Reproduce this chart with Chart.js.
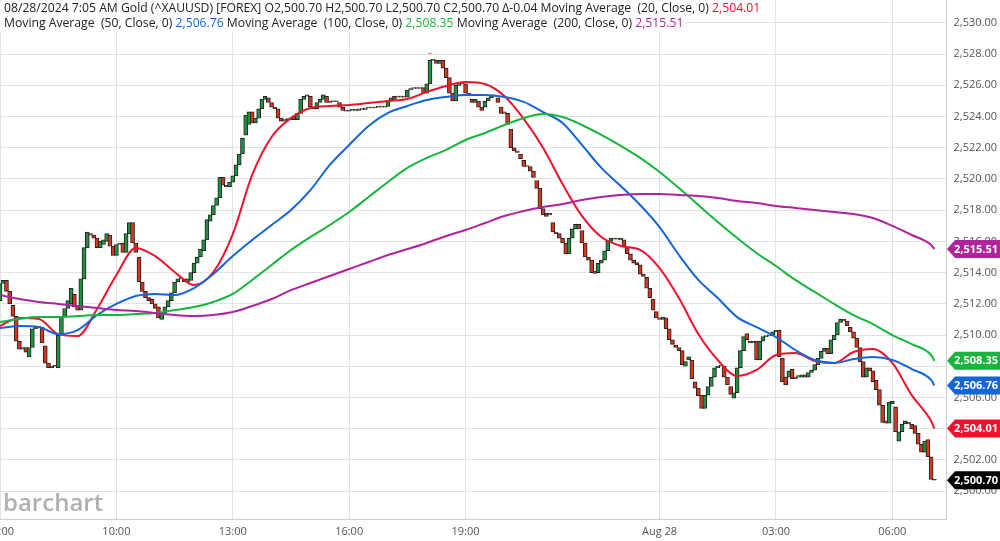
<!DOCTYPE html>
<html>
<head>
<meta charset="utf-8">
<script src="https://cdn.jsdelivr.net/npm/chart.js"></script>
<style>
  html, body { margin: 0; padding: 0; background: #fff; }
  #wrap { width: 1000px; height: 541px; position: relative; }
</style>
</head>
<body>
<div id="wrap"><canvas id="goldChart" width="1000" height="541"></canvas></div>
<script>
// Gold (^XAUUSD) 5-minute candles, 08/27 07:00 -> 08/28 07:05
const barMinutes = 5;
const opens = [
  2512.2, 2513.3, 2513.5, 2512.8, 2511.9, 2511.2, 2509.6, 2509.1, 2509.2, 2508.6,
  2509.2, 2510.4, 2510.5, 2510.5, 2509.3, 2508.2, 2507.9, 2508.0, 2507.9, 2510.0,
  2511.2, 2511.7, 2512.0, 2512.6, 2511.9, 2511.6, 2513.6, 2515.6, 2516.5, 2516.4,
  2516.2, 2515.6, 2515.8, 2516.0, 2516.4, 2515.7, 2515.1, 2515.8, 2515.9, 2515.3,
  2516.5, 2517.2, 2515.9, 2515.0, 2513.4, 2512.8, 2512.4, 2512.3, 2512.0, 2511.8,
  2511.0, 2511.4, 2511.8, 2512.2, 2512.7, 2513.4, 2513.6, 2513.6, 2513.4, 2513.5,
  2514.0, 2514.6, 2515.0, 2515.4, 2516.1, 2517.3, 2517.7, 2518.3, 2518.8, 2520.1,
  2519.6, 2519.5, 2519.8, 2520.2, 2520.9, 2521.6, 2522.8, 2523.5, 2524.3, 2523.6,
  2523.9, 2524.5, 2525.1, 2525.2, 2524.9, 2524.6, 2524.5, 2523.9, 2523.7, 2523.8,
  2523.8, 2524.0, 2523.8, 2524.2, 2525.1, 2525.3, 2525.3, 2524.6, 2524.5, 2524.9,
  2525.1, 2525.3, 2524.9, 2525.0, 2524.95, 2524.9, 2524.6, 2524.4, 2524.35, 2524.4,
  2524.45, 2524.4, 2524.5, 2524.45, 2524.55, 2524.6, 2524.55, 2524.6, 2524.65, 2524.6,
  2524.65, 2525.0, 2525.1, 2525.3, 2525.25, 2525.3, 2525.25, 2525.7, 2525.8, 2525.85,
  2525.8, 2525.85, 2525.5, 2526.1, 2527.6, 2527.6, 2527.4, 2527.6, 2527.1, 2526.5,
  2525.5, 2525.0, 2526.0, 2526.1, 2526.1, 2525.5, 2525.1, 2524.9, 2525.0, 2524.6,
  2524.6, 2525.0, 2525.2, 2525.35, 2525.2, 2524.6, 2524.3, 2524.2, 2523.2, 2522.0,
  2521.8, 2521.6, 2521.2, 2520.8, 2520.8, 2520.5, 2519.9, 2519.4, 2518.1, 2517.8,
  2517.7, 2517.2, 2516.6, 2516.5, 2516.2, 2515.9, 2515.2, 2516.2, 2516.8, 2517.1,
  2516.7, 2515.9, 2515.0, 2514.8, 2514.1, 2514.0, 2514.6, 2514.8, 2515.4, 2516.0,
  2516.2, 2516.15, 2516.2, 2516.1, 2515.6, 2515.2, 2514.8, 2514.65, 2514.5, 2513.9,
  2513.7, 2513.0, 2512.3, 2511.5, 2511.1, 2511.0, 2511.1, 2510.4, 2509.7, 2509.35,
  2509.2, 2509.0, 2508.0, 2508.4, 2508.4, 2507.0, 2506.6, 2506.15, 2505.3, 2506.15,
  2506.7, 2507.3, 2507.9, 2508.0, 2508.0, 2507.3, 2506.7, 2505.95, 2506.3, 2507.9,
  2509.0, 2510.1, 2509.6, 2509.5, 2509.6, 2508.4, 2509.6, 2509.9, 2509.95, 2510.0,
  2510.2, 2510.3, 2508.5, 2507.3, 2507.3, 2507.8, 2507.3, 2507.3, 2507.3, 2507.45,
  2507.3, 2507.6, 2507.75, 2508.1, 2508.5, 2508.95, 2509.15, 2508.8, 2509.7, 2510.0,
  2510.8, 2511.0, 2510.9, 2510.5, 2510.2, 2509.8, 2509.2, 2508.3, 2507.3, 2507.9,
  2507.7, 2507.1, 2506.5, 2505.5, 2504.5, 2504.35, 2505.6, 2505.4, 2503.2, 2503.8,
  2504.3, 2504.4, 2504.3, 2504.2, 2503.7, 2503.0, 2502.5, 2503.3, 2502.2, 2500.7
];
const closes = [
  2513.3, 2513.5, 2512.8, 2512.0, 2511.2, 2509.6, 2509.1, 2509.2, 2508.9, 2509.2,
  2510.4, 2510.5, 2510.5, 2509.5, 2508.2, 2507.9, 2508.0, 2508.0, 2510.0, 2511.2,
  2511.7, 2512.2, 2513.0, 2511.8, 2511.6, 2513.6, 2515.6, 2516.6, 2516.4, 2516.2,
  2515.6, 2516.0, 2516.1, 2516.5, 2515.7, 2515.1, 2515.8, 2515.9, 2515.3, 2516.5,
  2517.2, 2515.9, 2515.3, 2513.4, 2512.8, 2512.4, 2512.2, 2512.0, 2511.7, 2511.1,
  2511.4, 2511.8, 2512.2, 2512.7, 2513.4, 2513.6, 2513.65, 2513.4, 2513.6, 2514.0,
  2514.6, 2515.0, 2515.5, 2516.1, 2517.4, 2517.7, 2518.3, 2518.8, 2520.1, 2519.6,
  2519.5, 2519.8, 2520.2, 2520.9, 2521.6, 2522.6, 2524.1, 2524.3, 2523.6, 2523.9,
  2524.5, 2525.1, 2525.3, 2524.9, 2524.6, 2524.5, 2523.9, 2523.7, 2523.8, 2523.8,
  2523.9, 2523.8, 2524.2, 2525.1, 2525.3, 2525.4, 2524.6, 2524.5, 2524.9, 2525.1,
  2525.4, 2524.9, 2525.0, 2524.95, 2525.0, 2524.6, 2524.4, 2524.35, 2524.4, 2524.45,
  2524.4, 2524.5, 2524.45, 2524.55, 2524.6, 2524.55, 2524.6, 2524.65, 2524.6, 2524.65,
  2525.0, 2525.2, 2525.3, 2525.25, 2525.3, 2525.25, 2525.7, 2525.8, 2525.85, 2525.8,
  2525.85, 2525.5, 2526.1, 2527.6, 2527.65, 2527.4, 2527.6, 2527.1, 2526.5, 2525.5,
  2525.0, 2526.0, 2526.1, 2526.15, 2525.5, 2525.4, 2524.9, 2525.1, 2524.6, 2524.4,
  2525.0, 2525.2, 2525.35, 2525.3, 2524.9, 2524.2, 2524.2, 2523.5, 2522.0, 2521.8,
  2521.7, 2521.3, 2520.8, 2520.85, 2520.5, 2520.1, 2519.4, 2518.1, 2517.7, 2517.6,
  2517.8, 2516.6, 2516.5, 2516.2, 2515.9, 2515.2, 2516.2, 2516.8, 2517.1, 2516.8,
  2515.9, 2515.0, 2514.8, 2514.0, 2513.95, 2514.6, 2514.8, 2515.4, 2516.0, 2516.2,
  2516.15, 2516.2, 2516.1, 2515.7, 2515.2, 2514.8, 2514.6, 2514.5, 2513.9, 2513.75,
  2513.0, 2512.4, 2511.6, 2511.1, 2511.0, 2511.15, 2510.4, 2509.7, 2509.4, 2509.2,
  2509.0, 2508.1, 2508.3, 2508.6, 2507.2, 2506.6, 2506.1, 2505.3, 2506.15, 2506.7,
  2507.3, 2507.9, 2508.0, 2508.05, 2507.3, 2506.8, 2506.2, 2506.3, 2507.9, 2509.0,
  2509.9, 2509.7, 2509.5, 2509.6, 2508.4, 2509.6, 2509.9, 2509.95, 2510.0, 2510.2,
  2510.3, 2508.6, 2507.0, 2506.8, 2507.7, 2507.2, 2507.2, 2507.4, 2507.45, 2507.3,
  2507.6, 2507.75, 2508.1, 2508.5, 2508.95, 2509.15, 2508.8, 2509.7, 2510.0, 2510.8,
  2511.0, 2510.9, 2510.6, 2510.2, 2509.8, 2509.2, 2508.3, 2507.3, 2507.9, 2507.7,
  2507.0, 2506.5, 2505.5, 2504.4, 2504.35, 2505.7, 2505.75, 2503.8, 2503.8, 2504.3,
  2504.5, 2504.3, 2504.0, 2503.7, 2503.0, 2502.5, 2503.2, 2502.2, 2500.75, 2500.7
];

const maTimes = [
  0, 30, 60, 90, 120, 150, 180, 210, 240, 270,
  300, 330, 360, 390, 420, 450, 480, 510, 540, 570,
  600, 630, 660, 690, 720, 750, 780, 810, 840, 870,
  900, 930, 960, 990, 1020, 1050, 1080, 1110, 1140, 1170,
  1200, 1230, 1260, 1290, 1320, 1350, 1380, 1410, 1440, 1445
];
const ma20 = [
  2510.58, 2511.09, 2511.03, 2510.06, 2509.94, 2511.67, 2513.85, 2515.58, 2515.06, 2514.04,
  2513.2, 2514.04, 2516.47, 2520.26, 2522.69, 2523.91, 2524.55, 2524.68, 2524.74, 2524.87,
  2525.0, 2525.13, 2525.58, 2525.96, 2526.22, 2526.09, 2525.32, 2523.85, 2521.99, 2519.68,
  2517.63, 2516.28, 2515.71, 2515.45, 2514.29, 2512.37, 2510.06, 2508.4, 2507.37, 2507.76,
  2508.72, 2508.85, 2508.33, 2508.21, 2508.91, 2509.1, 2508.21, 2506.15, 2504.49, 2504.01
];
const ma50 = [
  2510.45, 2510.58, 2510.51, 2510.06, 2510.32, 2511.28, 2511.99, 2512.5, 2512.63, 2512.56,
  2513.01, 2513.91, 2515.06, 2516.09, 2517.05, 2518.01, 2519.29, 2520.9, 2522.18, 2523.4,
  2524.23, 2524.68, 2525.06, 2525.26, 2525.38, 2525.38, 2525.26, 2524.94, 2524.29, 2523.59,
  2522.18, 2520.71, 2519.55, 2518.33, 2516.92, 2515.13, 2513.53, 2512.37, 2511.15, 2510.51,
  2509.87, 2509.04, 2508.4, 2508.21, 2508.46, 2508.59, 2508.4, 2507.82, 2507.12, 2506.76
];
const ma100 = [
  2510.83, 2511.03, 2511.15, 2511.15, 2511.22, 2511.28, 2511.28, 2511.35, 2511.41, 2511.6,
  2511.79, 2512.12, 2512.63, 2513.53, 2514.49, 2515.45, 2516.28, 2517.05, 2517.88, 2518.85,
  2519.81, 2520.71, 2521.35, 2521.86, 2522.5, 2522.95, 2523.46, 2523.91, 2524.17, 2523.97,
  2523.46, 2522.82, 2522.12, 2521.35, 2520.45, 2519.42, 2518.33, 2517.24, 2516.22, 2515.26,
  2514.42, 2513.53, 2512.76, 2511.99, 2511.28, 2510.7, 2510.0, 2509.42, 2508.72, 2508.35
];
const ma200 = [
  2512.56, 2512.31, 2512.12, 2511.99, 2511.86, 2511.73, 2511.6, 2511.54, 2511.41, 2511.28,
  2511.22, 2511.28, 2511.47, 2511.86, 2512.31, 2512.88, 2513.33, 2513.78, 2514.23, 2514.68,
  2515.13, 2515.51, 2515.9, 2516.35, 2516.73, 2517.18, 2517.63, 2517.95, 2518.21, 2518.4,
  2518.65, 2518.85, 2518.97, 2519.04, 2519.04, 2518.97, 2518.91, 2518.78, 2518.59, 2518.46,
  2518.27, 2518.14, 2518.01, 2517.88, 2517.76, 2517.5, 2516.99, 2516.41, 2515.77, 2515.51
];

// axes
const yTicks = [2500, 2502, 2504, 2506, 2508, 2510, 2512, 2514, 2516, 2518, 2520, 2522, 2524, 2526, 2528, 2530];
const xTickMinutes = [0, 180, 360, 540, 720, 1020, 1200, 1380];
const xTickLabels = ['07:00', '10:00', '13:00', '16:00', '19:00', 'Aug 28', '03:00', '06:00'];

// right-hand price tags
const tagValues = [2515.51, 2508.35, 2506.76, 2504.01, 2500.70];
const tagColors = ['#b0239c', '#17b53d', '#1466d6', '#f0102c', '#000000'];

// session high marker
const highMark = { x: 665, y: 2528.05 };

const UP = '#1f9140';
const DOWN = '#d8351d';
const C20 = '#f0102c', C50 = '#1466d6', C100 = '#17b53d', C200 = '#b0239c';

const fmt = v => v.toLocaleString('en-US', { minimumFractionDigits: 2, maximumFractionDigits: 2 });

const overlay = {
  id: 'overlay',
  afterDraw(chart) {
    const ctx = chart.ctx;
    const y = chart.scales.y, x = chart.scales.x;
    ctx.save();

    // y labels
    ctx.font = '11px "Open Sans"';
    ctx.fillStyle = '#555';
    ctx.textAlign = 'right';
    ctx.textBaseline = 'middle';
    yTicks.forEach(v => ctx.fillText(fmt(v), 997, y.getPixelForValue(v)));

    // x labels
    ctx.font = '11px "Open Sans"';
    ctx.textAlign = 'center';
    xTickMinutes.forEach((m, i) => ctx.fillText(xTickLabels[i], x.getPixelForValue(m), 532));

    // high marker
    ctx.strokeStyle = '#f08060';
    ctx.lineWidth = 1;
    const hx = x.getPixelForValue(highMark.x), hy = y.getPixelForValue(highMark.y);
    ctx.beginPath();
    ctx.moveTo(hx - 2, hy);
    ctx.lineTo(hx + 2, hy);
    ctx.stroke();

    // price tags
    ctx.font = 'bold 11px "Open Sans"';
    ctx.textAlign = 'right';
    tagValues.forEach((v, i) => {
      const py = y.getPixelForValue(v);
      ctx.fillStyle = tagColors[i];
      ctx.beginPath();
      ctx.moveTo(947, py);
      ctx.lineTo(955, py - 9);
      ctx.lineTo(1000, py - 9);
      ctx.lineTo(1000, py + 9);
      ctx.lineTo(955, py + 9);
      ctx.closePath();
      ctx.fill();
      ctx.fillStyle = '#fff';
      ctx.fillText(fmt(v), 998, py + 0.5);
    });

    // header legend
    ctx.font = '12.2px "Open Sans"';
    ctx.textAlign = 'left';
    const lines = [
      [['08/28/2024 7:05 AM Gold (^XAUUSD) [FOREX] O2,500.70 H2,500.70 L2,500.70 C2,500.70 \u0394-0.04 Moving Average  (20, Close, 0) ', '#222'], [fmt(ma20[ma20.length - 1]), C20]],
      [['Moving Average  (50, Close, 0) ', '#222'], [fmt(ma50[ma50.length - 1]), C50],
       [' Moving Average  (100, Close, 0) ', '#222'], [fmt(ma100[ma100.length - 1]), C100],
       [' Moving Average  (200, Close, 0) ', '#222'], [fmt(ma200[ma200.length - 1]), C200]]
    ];
    lines.forEach((parts, li) => {
      const ly = 9 + li * 15;
      let w = 0;
      parts.forEach(p => { w += ctx.measureText(p[0]).width; });
      ctx.fillStyle = '#fff';
      ctx.fillRect(0, ly - 7, w + 6, 15);
      let cx = 4;
      parts.forEach(p => {
        ctx.fillStyle = p[1];
        ctx.fillText(p[0], cx, ly);
        cx += ctx.measureText(p[0]).width;
      });
    });

    // watermark
    ctx.font = '600 24px "Open Sans"';
    ctx.fillStyle = '#b0b0b0';
    ctx.textBaseline = 'alphabetic';
    ctx.fillText('barchart', 3, 511);
    ctx.restore();
  }
};

const candleData = opens.map((o, i) => ({ x: i * barMinutes, y: [o, closes[i]] }));
const candleColors = opens.map((o, i) => closes[i] > o ? UP : (closes[i] < o ? DOWN : '#333'));
const line = (vals, color) => ({
  type: 'line',
  data: maTimes.map((t, i) => ({ x: t, y: vals[i] })),
  borderColor: color,
  borderWidth: 2,
  pointRadius: 0,
  cubicInterpolationMode: 'monotone',
  fill: false,
  order: 0
});

new Chart(document.getElementById('goldChart').getContext('2d'), {
  type: 'bar',
  data: {
    datasets: [
      line(ma200, C200),
      line(ma100, C100),
      line(ma50, C50),
      line(ma20, C20),
      {
        type: 'bar',
        data: candleData,
        backgroundColor: candleColors,
        borderColor: '#222',
        borderWidth: 1,
        borderSkipped: false,
        barThickness: 4,
        minBarLength: 1,
        grouped: false,
        order: 1
      }
    ]
  },
  options: {
    responsive: false,
    animation: false,
    devicePixelRatio: 1,
    layout: { padding: { left: 0, right: 54, top: 0, bottom: 22 } },
    plugins: { legend: { display: false }, tooltip: { enabled: false } },
    scales: {
      x: {
        type: 'linear',
        min: 0,
        max: 1463,
        offset: false,
        grid: { color: '#e2e2e2', offset: false, drawTicks: false },
        border: { color: '#cfcfcf' },
        ticks: { display: false },
        afterBuildTicks: s => { s.ticks = xTickMinutes.map(v => ({ value: v })); }
      },
      y: {
        position: 'right',
        min: 2498.21,
        max: 2531.47,
        grid: { color: '#e2e2e2', drawTicks: false },
        border: { color: '#cfcfcf' },
        ticks: { display: false },
        afterBuildTicks: s => { s.ticks = yTicks.map(v => ({ value: v })); }
      }
    }
  },
  plugins: [overlay]
});
</script>
</body>
</html>
